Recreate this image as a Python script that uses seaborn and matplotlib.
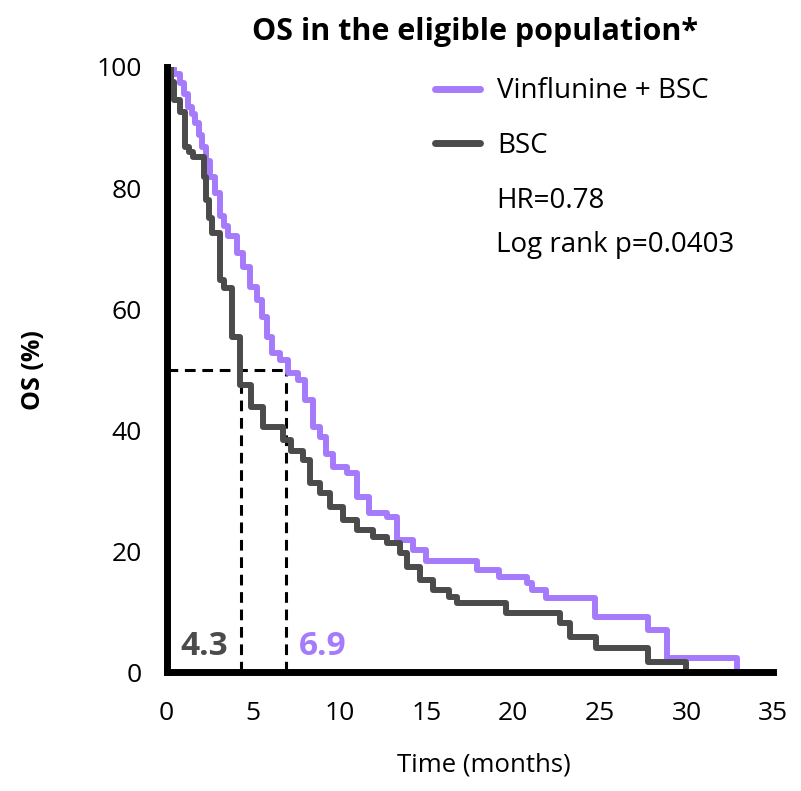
import pandas as pd
import matplotlib.pyplot as plt
import seaborn as sns

# Kaplan-Meier step points (time in months, OS in %)
vin_time = [0, 0.45, 0.78, 1.0, 1.26, 1.45, 1.64, 1.85, 2.03, 2.25, 2.5, 2.8, 3.09, 3.3,
            3.57, 4.05, 4.43, 4.82, 5.2, 5.49, 5.78, 6.07, 6.55, 7.03, 7.6, 8.0, 8.45,
            8.84, 9.2, 9.59, 10.4, 11.0, 11.7, 12.7, 13.3, 14.2, 15.0,
            17.9, 19.2, 20.8, 21.1, 21.9, 24.7, 27.8, 28.9, 32.9]
vin_surv = [100, 98.8, 97.3, 95.5, 93.4, 92.2, 90.7, 88.8, 86.8, 84.5, 81.8, 79.1, 75.3, 73.8,
            72.0, 69.2, 67.0, 63.7, 61.5, 58.7, 55.4, 52.7, 51.6, 49.4, 48.3, 45.0, 40.5,
            38.8, 36.0, 33.9, 32.9, 28.9, 26.3, 25.6, 21.8, 20.2, 18.3,
            16.9, 15.7, 14.7, 13.6, 12.2, 9.1, 6.9, 2.3, 0.3]

bsc_time = [0, 0.25, 0.45, 0.8, 1.07, 1.3, 1.55, 2.16, 2.3, 2.45, 2.6, 3.09, 3.3, 3.76, 4.24,
            4.9, 5.57, 6.74, 7.2, 7.86, 8.26, 8.84, 9.42, 10.17, 11.0, 11.9,
            12.7, 13.5, 13.9, 14.6, 15.4, 16.3, 16.75, 19.6, 22.7, 23.3, 24.8, 27.8, 30.0]
bsc_surv = [100, 97.5, 94.5, 92.5, 86.8, 86.0, 85.2, 81.9, 78.0, 75.0, 72.5, 64.8, 63.5, 55.4, 47.5,
            43.8, 40.5, 38.3, 36.5, 35.0, 31.2, 29.6, 27.3, 25.1, 23.5, 22.3,
            21.3, 19.7, 17.4, 15.2, 13.6, 12.4, 11.4, 9.7, 8.1, 5.8, 4.0, 1.6, 0.3]

arms = ['Vinflunine + BSC', 'BSC']
colors = {'Vinflunine + BSC': '#a57bfc', 'BSC': '#4b4b4b'}
medians = {'Vinflunine + BSC': 6.9, 'BSC': 4.3}

df = pd.concat([
    pd.DataFrame({'time': vin_time, 'os': vin_surv, 'arm': arms[0]}),
    pd.DataFrame({'time': bsc_time, 'os': bsc_surv, 'arm': arms[1]}),
])

sns.set_style('white')
plt.rcParams['font.family'] = ['Open Sans', 'DejaVu Sans']
plt.rcParams['text.color'] = 'black'

fig = plt.figure(figsize=(8.01, 7.91), dpi=100)
ax = fig.add_axes([0.2079, 0.1504, 0.7572, 0.7649])

sns.lineplot(data=df, x='time', y='os', hue='arm', hue_order=arms, palette=colors,
             drawstyle='steps-post', estimator=None, linewidth=4.3, ax=ax)

# median lines
ax.plot([0, medians['Vinflunine + BSC']], [50, 50], color='black', lw=2.2,
        dashes=(3.5, 2.2), zorder=1)
for arm in arms:
    ax.plot([medians[arm]] * 2, [0, 50], color='black', lw=2.2, dashes=(3.5, 2.2), zorder=1)

ax.text(2.19, 2.8, '4.3', color=colors['BSC'], fontsize=24, fontweight='bold',
        ha='center', va='baseline')
ax.text(9.0, 2.8, '6.9', color=colors['Vinflunine + BSC'], fontsize=24, fontweight='bold',
        ha='center', va='baseline')

ax.set_xlim(0, 35)
ax.set_ylim(0, 100)
ax.set_xticks(range(0, 36, 5))
ax.set_yticks(range(0, 101, 20))
ax.tick_params(axis='both', direction='out', length=9, width=4, labelsize=19,
               colors='black')
ax.tick_params(axis='x', pad=12)
ax.tick_params(axis='y', pad=9)
for side in ['top', 'right']:
    ax.spines[side].set_visible(False)
for side in ['left', 'bottom']:
    ax.spines[side].set_linewidth(5)
    ax.spines[side].set_color('black')
    ax.spines[side].set_zorder(5)

ax.set_xlabel('')
ax.set_ylabel('')
fig.text(484 / 801, 1 - 772 / 791, 'Time (months)', fontsize=18.5, ha='center', va='baseline')
fig.text(33 / 801, 1 - 370 / 791, 'OS (%)', fontsize=18, fontweight='bold', rotation=90,
         ha='center', va='center')
fig.text(475 / 801, 1 - 40 / 791, 'OS in the eligible population*', fontsize=22,
         fontweight='bold', ha='center', va='baseline')

leg = ax.legend(loc='upper left', bbox_to_anchor=(15.5, 98.3), bbox_transform=ax.transData,
                frameon=False, fontsize=20, handlelength=1.62, handletextpad=0.6,
                labelspacing=0.95, borderaxespad=0, borderpad=0)
for line in leg.get_lines():
    line.set_linewidth(5)

ax.text(19.0, 76.7, 'HR=0.78', fontsize=20, ha='left', va='baseline')
ax.text(19.0, 69.4, 'Log rank p=0.0403', fontsize=20, ha='left', va='baseline')

fig.savefig('out.png', dpi=100)
